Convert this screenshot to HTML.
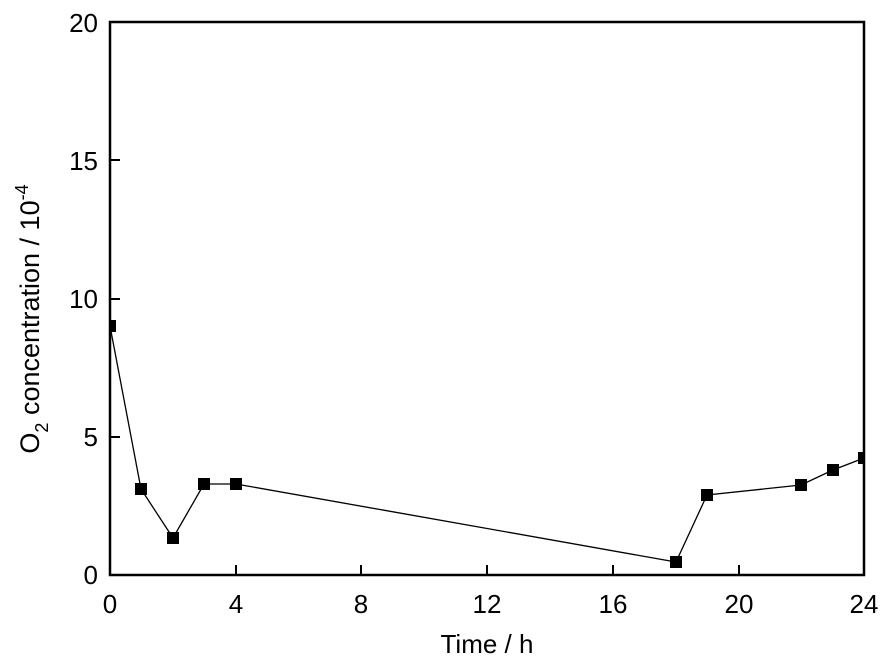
<!DOCTYPE html>
<html><head><style>body{margin:0;background:#fff}</style></head><body>
<svg width="886" height="662" xmlns="http://www.w3.org/2000/svg" font-family="Liberation Sans, Arial, sans-serif">
<defs><clipPath id="c"><rect x="110" y="22" width="754" height="553"/></clipPath></defs>
<g stroke="#000" stroke-width="2">
<line x1="110" y1="437" x2="120" y2="437"/><line x1="110" y1="299" x2="120" y2="299"/><line x1="110" y1="160" x2="120" y2="160"/>
<line x1="236" y1="575" x2="236" y2="565"/><line x1="361" y1="575" x2="361" y2="565"/><line x1="487" y1="575" x2="487" y2="565"/><line x1="613" y1="575" x2="613" y2="565"/><line x1="739" y1="575" x2="739" y2="565"/>
</g>
<g clip-path="url(#c)">
<polyline fill="none" stroke="#000" stroke-width="1.3" points="110,326 141,489 173,538 204,484 236,484 676,562 707,495 801,485 833,470 864,458"/>
<g fill="#000">
<rect x="104" y="320" width="12" height="12"/><rect x="135" y="483" width="12" height="12"/><rect x="167" y="532" width="12" height="12"/><rect x="198" y="478" width="12" height="12"/><rect x="230" y="478" width="12" height="12"/><rect x="670" y="556" width="12" height="12"/><rect x="701" y="489" width="12" height="12"/><rect x="795" y="479" width="12" height="12"/><rect x="827" y="464" width="12" height="12"/><rect x="858" y="452" width="12" height="12"/>
</g></g>
<rect x="110" y="22" width="754" height="553" fill="none" stroke="#000" stroke-width="2.5"/>
<g font-size="26" text-anchor="end" fill="#000">
<text x="98" y="32">20</text><text x="98" y="170">15</text><text x="98" y="308">10</text><text x="98" y="446">5</text><text x="98" y="584">0</text>
</g>
<g font-size="26" text-anchor="middle" fill="#000">
<text x="110" y="613">0</text><text x="236" y="613">4</text><text x="361" y="613">8</text><text x="487" y="613">12</text><text x="613" y="613">16</text><text x="739" y="613">20</text><text x="864" y="613">24</text>
<text x="487" y="653">Time / h</text>
</g>
<text transform="translate(39,319) rotate(-90)" font-size="27" text-anchor="middle" fill="#000">O<tspan font-size="18" dy="9">2</tspan><tspan dy="-9"> concentration / 10</tspan><tspan font-size="18" dy="-11">-4</tspan></text>
</svg>
</body></html>
